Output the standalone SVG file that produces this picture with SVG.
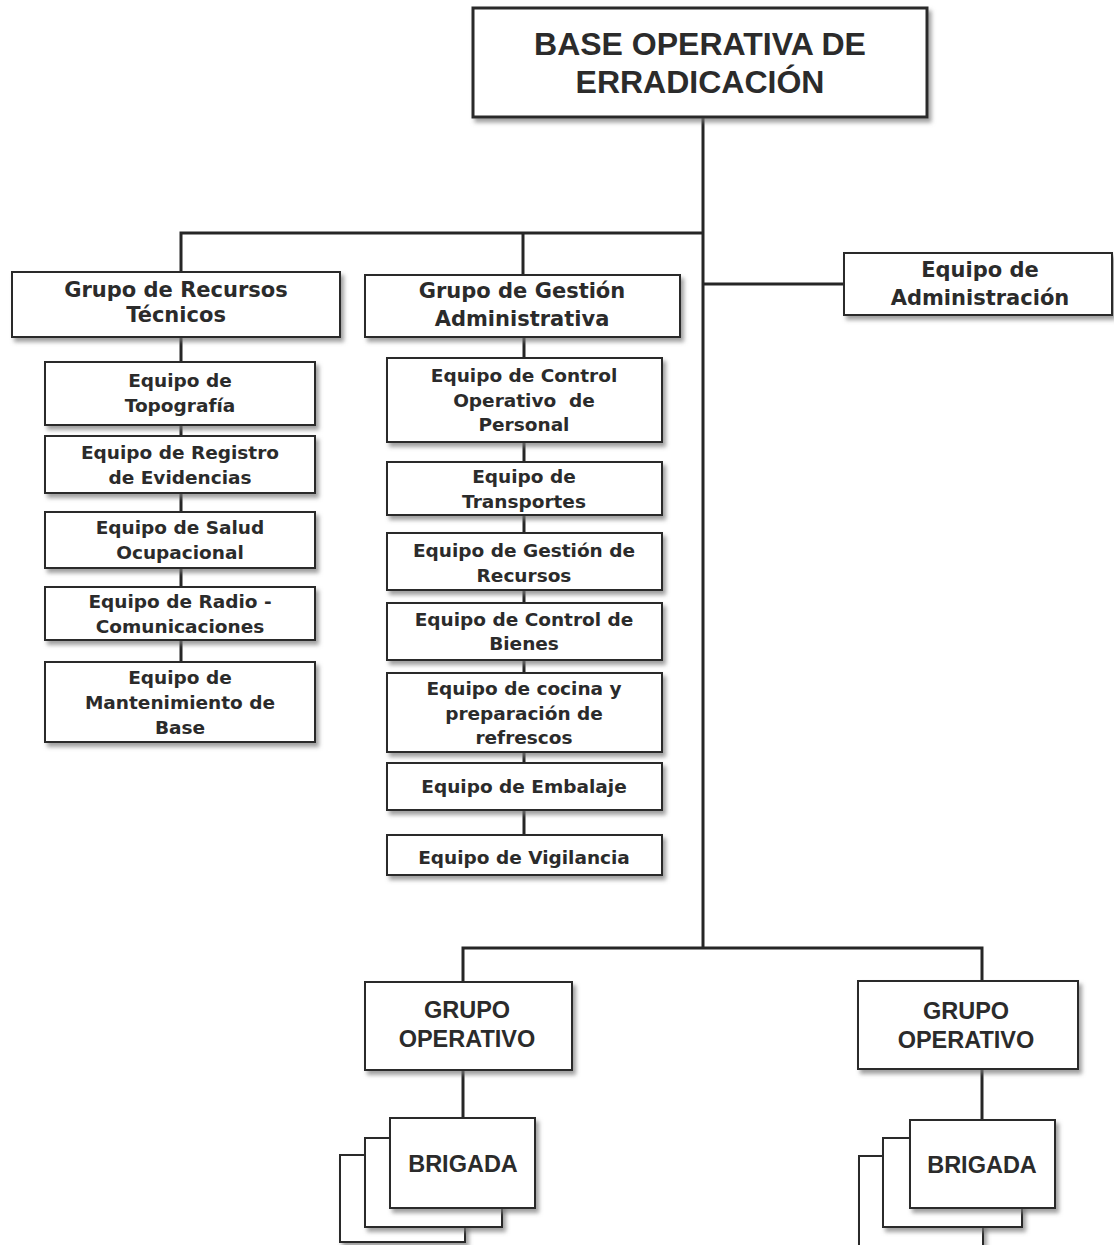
<svg xmlns="http://www.w3.org/2000/svg" width="1114" height="1245" viewBox="0 0 1114 1245">
<defs>
<filter id="sh" x="-10%" y="-10%" width="125%" height="140%">
<feDropShadow dx="3" dy="4" stdDeviation="2" flood-color="#777" flood-opacity="0.7"/>
</filter>
<style>
.box{fill:#fff;stroke:#2a2a2a;stroke-width:2;filter:url(#sh)}
.big{stroke-width:3}
.c{fill:none;stroke:#262626;stroke-width:3}
text{fill:#2b2b2b;text-anchor:middle}
.t{font-family:"Liberation Sans",Arial,sans-serif;font-weight:bold;font-size:32px}
.g{font-family:"DejaVu Sans",Verdana,sans-serif;font-weight:bold;font-size:21px}
.e{font-family:"DejaVu Sans",Verdana,sans-serif;font-weight:bold;font-size:18.5px}
.o{font-family:"Liberation Sans",Arial,sans-serif;font-weight:bold;font-size:23.5px}
</style>
</defs>
<rect width="1114" height="1245" fill="#fff"/>
<g id="connectors">
<path class="c" d="M703 117 V948"/>
<path class="c" d="M181 272 V233 H703"/>
<path class="c" d="M523 233 V275"/>
<path class="c" d="M703 284 H844"/>
<path class="c" d="M181 337 V662"/>
<path class="c" d="M524 337 V835"/>
<path class="c" d="M463 982 V948 H982 V981"/>
<path class="c" d="M463 1070 V1118"/>
<path class="c" d="M982 1069 V1120"/>
</g>
<g id="n-base">
<rect class="box big" x="473" y="8" width="454" height="109"/>
<text class="t" x="700" y="55">BASE OPERATIVA DE</text>
<text class="t" x="700" y="93">ERRADICACIÓN</text>
</g>
<g id="n-recursos">
<rect class="box" x="12" y="272" width="328" height="65"/>
<text class="g" x="176" y="297">Grupo de Recursos</text>
<text class="g" x="176" y="322">Técnicos</text>
</g>
<g id="n-gestion">
<rect class="box" x="365" y="275" width="315" height="62"/>
<text class="g" x="522" y="298">Grupo de Gestión</text>
<text class="g" x="522" y="326">Administrativa</text>
</g>
<g id="n-admin">
<rect class="box" x="844" y="253" width="268" height="62"/>
<text class="g" x="980" y="277">Equipo de</text>
<text class="g" x="980" y="305">Administración</text>
</g>
<g id="n-topografia">
<rect class="box" x="45" y="362" width="270" height="63"/>
<text class="e" x="180" y="387">Equipo de</text>
<text class="e" x="180" y="412">Topografía</text>
</g>
<g id="n-registro">
<rect class="box" x="45" y="436" width="270" height="57"/>
<text class="e" x="180" y="459">Equipo de Registro</text>
<text class="e" x="180" y="484">de Evidencias</text>
</g>
<g id="n-salud">
<rect class="box" x="45" y="512" width="270" height="56"/>
<text class="e" x="180" y="534">Equipo de Salud</text>
<text class="e" x="180" y="559">Ocupacional</text>
</g>
<g id="n-radio">
<rect class="box" x="45" y="587" width="270" height="53"/>
<text class="e" x="180" y="608">Equipo de Radio -</text>
<text class="e" x="180" y="633">Comunicaciones</text>
</g>
<g id="n-mantenimiento">
<rect class="box" x="45" y="662" width="270" height="80"/>
<text class="e" x="180" y="684">Equipo de</text>
<text class="e" x="180" y="709">Mantenimiento de</text>
<text class="e" x="180" y="734">Base</text>
</g>
<g id="n-control-personal">
<rect class="box" x="387" y="358" width="275" height="84"/>
<text class="e" x="524" y="382">Equipo de Control</text>
<text class="e" x="524" y="407" xml:space="preserve">Operativo  de</text>
<text class="e" x="524" y="431">Personal</text>
</g>
<g id="n-transportes">
<rect class="box" x="387" y="462" width="275" height="53"/>
<text class="e" x="524" y="483">Equipo de</text>
<text class="e" x="524" y="508">Transportes</text>
</g>
<g id="n-gestion-recursos">
<rect class="box" x="387" y="533" width="275" height="57"/>
<text class="e" x="524" y="557">Equipo de Gestión de</text>
<text class="e" x="524" y="582">Recursos</text>
</g>
<g id="n-bienes">
<rect class="box" x="387" y="603" width="275" height="57"/>
<text class="e" x="524" y="626">Equipo de Control de</text>
<text class="e" x="524" y="650">Bienes</text>
</g>
<g id="n-cocina">
<rect class="box" x="387" y="673" width="275" height="79"/>
<text class="e" x="524" y="695">Equipo de cocina y</text>
<text class="e" x="524" y="720">preparación de</text>
<text class="e" x="524" y="744">refrescos</text>
</g>
<g id="n-embalaje">
<rect class="box" x="387" y="763" width="275" height="47"/>
<text class="e" x="524" y="793">Equipo de Embalaje</text>
</g>
<g id="n-vigilancia">
<rect class="box" x="387" y="835" width="275" height="40"/>
<text class="e" x="524" y="864">Equipo de Vigilancia</text>
</g>
<g id="n-grupo-op-1">
<rect class="box" x="365" y="982" width="207" height="88"/>
<text class="o" x="467" y="1018">GRUPO</text>
<text class="o" x="467" y="1047">OPERATIVO</text>
</g>
<g id="n-grupo-op-2">
<rect class="box" x="858" y="981" width="220" height="88"/>
<text class="o" x="966" y="1019">GRUPO</text>
<text class="o" x="966" y="1048">OPERATIVO</text>
</g>
<g id="n-brigada-1">
<rect class="box" x="340" y="1155" width="125" height="87"/>
<rect class="box" x="365" y="1138" width="137" height="89"/>
<rect class="box" x="390" y="1118" width="145" height="90"/>
<text class="o" x="463" y="1172">BRIGADA</text>
</g>
<g id="n-brigada-2">
<rect class="box" x="859" y="1156" width="124" height="95"/>
<rect class="box" x="883" y="1138" width="139" height="89"/>
<rect class="box" x="910" y="1120" width="145" height="88"/>
<text class="o" x="982" y="1173">BRIGADA</text>
</g>
</svg>
